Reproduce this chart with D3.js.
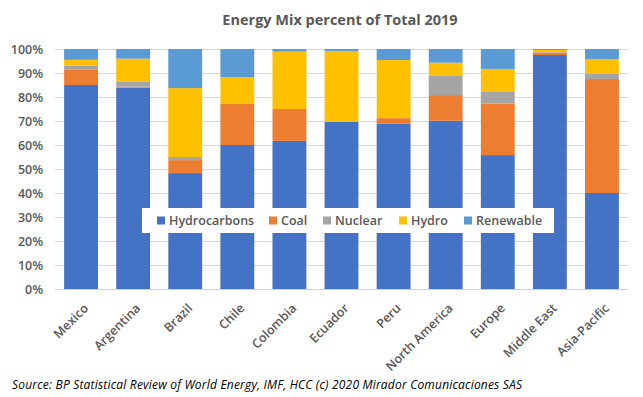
<!DOCTYPE html>
<html>
<head>
<meta charset="utf-8">
<script src="https://cdn.jsdelivr.net/npm/d3@7"></script>
<style>
  body { margin: 0; background: #fff; }
  text { font-family: "Open Sans", sans-serif; }
</style>
</head>
<body>
<div id="wrapper"></div>
<script>
const categories = ["Mexico", "Argentina", "Brazil", "Chile", "Colombia", "Ecuador", "Peru", "North America", "Europe", "Middle East", "Asia-Pacific"]
const seriesNames = ["Hydrocarbons", "Coal", "Nuclear", "Hydro", "Renewable"]
const hydrocarbons = [85.0, 83.9, 48.3, 60.0, 61.7, 69.6, 69.0, 70.1, 55.8, 97.5, 40.0]
const coal         = [6.3, 0.4, 5.4, 17.1, 13.3, 0.0, 2.2, 10.7, 21.4, 1.0, 47.5]
const nuclear      = [1.7, 2.0, 1.3, 0.0, 0.0, 0.0, 0.0, 8.0, 4.9, 0.2, 2.2]
const hydro        = [2.5, 9.7, 28.7, 11.2, 23.9, 29.6, 24.2, 5.5, 9.6, 0.9, 6.1]
const renewable    = [4.5, 4.0, 16.3, 11.7, 1.1, 0.8, 4.6, 5.7, 8.3, 0.4, 4.2]
const yTicks = [0, 10, 20, 30, 40, 50, 60, 70, 80, 90, 100]
const colors = ["#4472C4", "#ED7D31", "#A5A5A5", "#FFC000", "#5B9BD5"]

window.addEventListener("load", paint)

function paint() {
    const dims = { width: 643, height: 397, left: 55, right: 628, top: 49, bottom: 289 }

    const svg = d3.select("#wrapper")
        .append("svg")
            .attr("width", dims.width)
            .attr("height", dims.height)

    const table = categories.map((c, i) => ({
        cat: c,
        Hydrocarbons: hydrocarbons[i], Coal: coal[i], Nuclear: nuclear[i],
        Hydro: hydro[i], Renewable: renewable[i]
    }))
    const stacked = d3.stack().keys(seriesNames)(table)

    const x = d3.scaleBand().domain(categories)
        .range([dims.left, dims.right]).paddingInner(0.35).paddingOuter(0.175)
    const y = d3.scaleLinear().domain([0, 100]).range([dims.bottom, dims.top])
    const color = d3.scaleOrdinal().domain(seriesNames).range(colors)

    // gridlines
    svg.append("g")
        .selectAll("line").data(yTicks).join("line")
            .attr("x1", dims.left).attr("x2", dims.right)
            .attr("y1", d => y(d) + 0.5).attr("y2", d => y(d) + 0.5)
            .attr("stroke", d => d === 0 ? "#d0d0d0" : "#d9d9d9").attr("stroke-width", 1)

    // y axis labels
    const yAxis = svg.append("g")
        .attr("transform", `translate(${dims.left - 12},0)`)
        .call(d3.axisLeft(y).tickValues(yTicks).tickFormat(d => d + "%").tickSize(0).tickPadding(0))
    yAxis.select(".domain").remove()
    yAxis.selectAll("text")
        .attr("fill", "#595959").attr("font-size", "12.5px").attr("font-weight", 600)
        .style("font-family", "'Open Sans', sans-serif")

    // bars
    svg.append("g")
        .selectAll("g").data(stacked).join("g")
            .attr("fill", d => color(d.key))
        .selectAll("rect").data(d => d).join("rect")
            .attr("x", d => x(d.data.cat))
            .attr("width", x.bandwidth())
            .attr("y", d => y(d[1]))
            .attr("height", d => y(d[0]) - y(d[1]))

    // x axis labels
    const xAxis = svg.append("g")
        .attr("transform", `translate(0,${dims.bottom})`)
        .call(d3.axisBottom(x).tickSize(0).tickPadding(0))
    xAxis.select(".domain").remove()
    xAxis.selectAll("text")
        .attr("fill", "#595959").attr("font-size", "12.5px").attr("font-weight", 600)
        .style("font-family", "'Open Sans', sans-serif")
        .attr("text-anchor", "end")
        .attr("dy", 0).attr("y", 0)
        .attr("transform", "translate(8,20) rotate(-45)")

    // title
    svg.append("text")
        .attr("x", 340).attr("y", 25)
        .attr("text-anchor", "middle")
        .attr("font-size", "14.5px").attr("font-weight", 700)
        .attr("fill", "#595959")
        .text("Energy Mix percent of Total 2019")

    // legend
    const legend = svg.append("g")
    legend.append("rect")
        .attr("x", 142).attr("y", 208).attr("width", 412).attr("height", 25)
        .attr("fill", "#fff")
    const gaps = [157, 269, 323, 399, 464]
    const items = legend.selectAll("g.item").data(seriesNames).join("g")
        .attr("class", "item")
        .attr("transform", (d, i) => `translate(${gaps[i]},220.5)`)
    items.append("rect")
        .attr("x", 0).attr("y", -4).attr("width", 8).attr("height", 8)
        .attr("fill", d => color(d))
    items.append("text")
        .attr("x", 12).attr("y", 0).attr("dy", "0.35em")
        .attr("font-size", "12.5px").attr("font-weight", 600)
        .attr("fill", "#595959")
        .text(d => d)

    // source
    svg.append("text")
        .attr("x", 12).attr("y", 389)
        .attr("font-size", "12px").attr("font-style", "italic")
        .attr("fill", "#000")
        .attr("textLength", 510).attr("lengthAdjust", "spacing")
        .text("Source:  BP Statistical  Review  of World Energy, IMF, HCC (c) 2020 Mirador Comunicaciones  SAS")
}
</script>
</body>
</html>
